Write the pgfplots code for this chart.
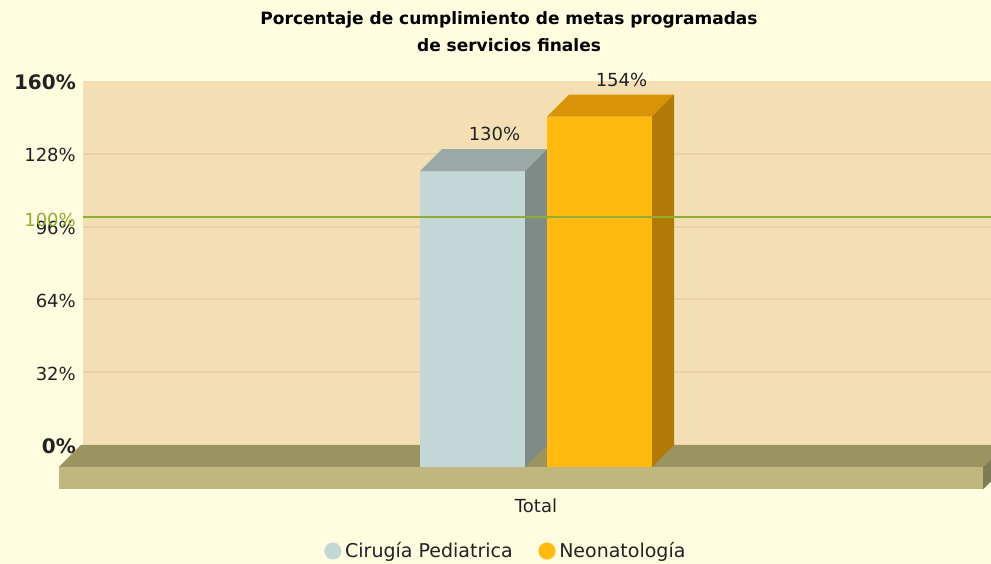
\documentclass[border=0pt]{standalone}
\usepackage{pgfplots}
\pgfplotsset{compat=1.18}
\usepackage{fontspec}
\setmainfont{DejaVu Sans}
\definecolor{bgcream}{HTML}{FFFCE0}
\definecolor{wall}{HTML}{F4DFB5}
\definecolor{gridc}{HTML}{E9D2AA}
\definecolor{floortop}{HTML}{9B9461}
\definecolor{floorfront}{HTML}{BFB77E}
\definecolor{floorside}{HTML}{7F7B52}
\definecolor{cirF}{HTML}{C3D7D7}
\definecolor{cirT}{HTML}{9AA9A6}
\definecolor{cirS}{HTML}{7F8B86}
\definecolor{neoF}{HTML}{FFB90F}
\definecolor{neoT}{HTML}{D99405}
\definecolor{neoS}{HTML}{B07A05}
\definecolor{goal}{HTML}{8FAE35}
\definecolor{txt}{HTML}{222222}
\begin{document}
\begin{tikzpicture}
\clip (-83pt,-119pt) rectangle (908pt,445pt);
\fill[bgcream] (-83pt,-119pt) rectangle (908pt,445pt);
\begin{axis}[
  scale only axis, width=908pt, height=364pt,
  at={(0pt,0pt)}, anchor=south west,
  xmin=0, xmax=908, ymin=0, ymax=160,
  clip=false,
  axis line style={draw=none},
  axis background/.style={fill=wall},
  tick style={draw=none},
  xtick=\empty,
  ytick={0,32,64,96,128,160},
  yticklabels={{\fontsize{20}{22}\selectfont\bfseries 0\%},32\%,64\%,96\%,128\%,{\fontsize{20}{22}\selectfont\bfseries 160\%}},
  yticklabel style={font=\fontsize{18}{20}\selectfont, text=txt, anchor=east, inner sep=0pt, xshift=-7pt, yshift=-1.5pt},
  extra y ticks={100},
  extra y tick labels={100\%},
  extra y tick style={yticklabel style={text=goal, yshift=-1pt}},
  legend style={at={(axis cs:423,-46.6)}, anchor=center, draw=none, fill=none,
    font=\fontsize{19}{21}\selectfont, text=txt, legend columns=2,
    /tikz/every even column/.append style={column sep=24pt},
    /tikz/every odd column/.append style={column sep=2pt}},
  legend cell align=left,
]
% legend images first
\addlegendimage{only marks, mark=*, mark size=8.3pt, mark options={draw=cirF, fill=cirF}}
\addlegendentry{Cirugía Pediatrica}
\addlegendimage{only marks, mark=*, mark size=8.3pt, mark options={draw=neoF, fill=neoF}}
\addlegendentry{Neonatología}
% grid lines
\addplot[gridc, line width=2pt, forget plot] coordinates {(0,32) (908,32)};
\addplot[gridc, line width=2pt, forget plot] coordinates {(0,64) (908,64)};
\addplot[gridc, line width=2pt, forget plot] coordinates {(0,96) (908,96)};
\addplot[gridc, line width=2pt, forget plot] coordinates {(0,128) (908,128)};
% floor
\addplot[fill=floortop, draw=none, forget plot] coordinates {(-2,0) (922,0) (900,-9.67) (-24,-9.67)} --cycle;
\addplot[fill=floorfront, draw=none, forget plot] coordinates {(-24,-9.67) (900,-9.67) (900,-19.47) (-24,-19.47)} --cycle;
\addplot[fill=floorside, draw=none, forget plot] coordinates {(900,-9.67) (922,0) (922,-9.8) (900,-19.47)} --cycle;
% Cirugia Pediatrica: 130
\addplot[fill=cirF, draw=none, forget plot] coordinates {(337,-9.67) (442,-9.67) (442,120.33) (337,120.33)} --cycle;
\addplot[fill=cirT, draw=none, forget plot] coordinates {(337,120.33) (442,120.33) (464,130) (359,130)} --cycle;
\addplot[fill=cirS, draw=none, forget plot] coordinates {(442,-9.67) (464,0) (464,130) (442,120.33)} --cycle;
% Neonatologia: 154
\addplot[fill=neoF, draw=none, forget plot] coordinates {(464,-9.67) (569,-9.67) (569,144.33) (464,144.33)} --cycle;
\addplot[fill=neoT, draw=none, forget plot] coordinates {(464,144.33) (569,144.33) (591,154) (486,154)} --cycle;
\addplot[fill=neoS, draw=none, forget plot] coordinates {(569,-9.67) (591,0) (591,154) (569,144.33)} --cycle;
% value labels
\addplot[draw=none, mark=none, forget plot,
  nodes near coords={\pgfmathprintnumber[assume math mode=true]{\pgfplotspointmeta}\%},
  point meta=y,
  every node near coord/.style={anchor=center, yshift=15pt, font=\fontsize{18}{20}\selectfont, text=txt}]
  coordinates {(411.5,130) (538.5,154)};
% goal line
\addplot[goal, line width=2pt, forget plot] coordinates {(0,100) (908,100)};
% texts
\node[font=\fontsize{18}{20}\selectfont, text=txt] at (axis cs:453,-26.8) {Total};
\node[font=\bfseries\fontsize{17}{27}\selectfont, text=black, align=center] at (axis cs:426,181.8)
  {Porcentaje de cumplimiento de metas programadas\\de servicios finales};
\end{axis}
\end{tikzpicture}
\end{document}
